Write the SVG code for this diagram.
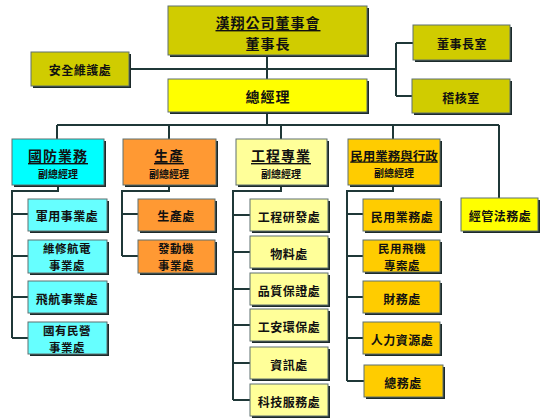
<svg xmlns="http://www.w3.org/2000/svg" width="550" height="419" viewBox="0 0 550 419">
<defs>
<style>
.sh{fill:#1c2a2a}
.bx{stroke:#5f7070;stroke-width:1}
.ol{fill:#D0CC00}
.yl{fill:#FFFF00}
.cy{fill:#00FFFF}
.lc{fill:#66FFFF}
.or{fill:#FF9933}
.ly{fill:#FFFF99}
.gd{fill:#FFCC00}
text{font-family:"Noto Sans CJK TC","Noto Sans CJK SC",serif;font-weight:bold;fill:#111;text-anchor:middle;dominant-baseline:central}
.t14{font-size:14px;letter-spacing:1px}
.t12{font-size:12px;letter-spacing:0.5px}
.t2{font-size:11.5px;letter-spacing:0.5px}
.t10{font-size:10px}
.conn{fill:none;stroke:#1f3838;stroke-width:2}
</style>
</defs>
<rect width="550" height="419" fill="#fff"/>
<g id="connectors">
<path class="conn" d="M267 55V79M129 69H396M396 43V96M396 43H413M396 96H412M267 112V125M57 125H499M57 125V139M169 125V139M281 125V139M393 125V139M499 125V198"/>
<path class="conn" d="M58 185V191H12V338M12 214H28M12 256H28M12 297H28M12 338H28"/>
<path class="conn" d="M169 185V191H122V256M122 214H138M122 256H138"/>
<path class="conn" d="M281 185V191H233V400M233 215H250M233 252H250M233 289H250M233 325H250M233 363H250M233 400H250"/>
<path class="conn" d="M393 185V191H347V381M347 214H363M347 256H363M347 297H363M347 338H363M347 381H364"/>
</g>
<g id="board">
<rect class="sh" x="170" y="8" width="199" height="49"/>
<rect class="bx ol" x="168" y="6" width="199" height="49"/>
<text class="t14" x="268" y="22" text-decoration="underline">漢翔公司董事會</text>
<text class="t14" x="268" y="43">董事長</text>
</g>
<g id="security">
<rect class="sh" x="33" y="54" width="98" height="34"/>
<rect class="bx ol" x="31" y="52" width="98" height="34"/>
<text class="t12" x="80" y="69">安全維護處</text>
</g>
<g id="chairman-office">
<rect class="sh" x="415" y="27" width="97" height="35"/>
<rect class="bx ol" x="413" y="25" width="97" height="35"/>
<text class="t12" x="462" y="43">董事長室</text>
</g>
<g id="audit">
<rect class="sh" x="414" y="81" width="98" height="34"/>
<rect class="bx ol" x="412" y="79" width="98" height="34"/>
<text class="t12" x="461" y="97">稽核室</text>
</g>
<g id="gm">
<rect class="sh" x="170" y="81" width="199" height="33"/>
<rect class="bx yl" x="168" y="79" width="199" height="33"/>
<text class="t14" x="268" y="96">總經理</text>
</g>
<g id="defense">
<rect class="sh" x="14" y="141" width="92" height="46"/>
<rect class="bx cy" x="12" y="139" width="92" height="46"/>
<text class="t14" x="58" y="155" text-decoration="underline">國防業務</text>
<text class="t10" x="58" y="173">副總經理</text>
</g>
<g id="production">
<rect class="sh" x="125" y="141" width="93" height="46"/>
<rect class="bx or" x="123" y="139" width="93" height="46"/>
<text class="t14" x="169" y="155" text-decoration="underline">生產</text>
<text class="t10" x="169" y="173">副總經理</text>
</g>
<g id="engineering">
<rect class="sh" x="238" y="141" width="91" height="46"/>
<rect class="bx ly" x="236" y="139" width="91" height="46"/>
<text class="t14" x="281" y="155" text-decoration="underline">工程專業</text>
<text class="t10" x="281" y="173">副總經理</text>
</g>
<g id="civil">
<rect class="sh" x="350" y="141" width="92" height="46"/>
<rect class="bx gd" x="348" y="139" width="92" height="46"/>
<text x="394" y="155" font-size="12.5" text-decoration="underline">民用業務與行政</text>
<text class="t10" x="394" y="172">副總經理</text>
</g>
<g id="legal">
<rect class="sh" x="463" y="200" width="77" height="33"/>
<rect class="bx yl" x="461" y="198" width="77" height="33"/>
<text class="t12" x="500" y="215">經管法務處</text>
</g>
<g id="d1"><rect class="sh" x="30" y="201" width="79" height="32"/><rect class="bx lc" x="28" y="199" width="79" height="32"/><text class="t12" x="67" y="215">軍用事業處</text></g>
<g id="d2"><rect class="sh" x="30" y="242" width="79" height="33"/><rect class="bx lc" x="28" y="240" width="79" height="33"/><text class="t2" x="67" y="248">維修航電</text><text class="t2" x="67" y="265">事業處</text></g>
<g id="d3"><rect class="sh" x="30" y="283" width="79" height="32"/><rect class="bx lc" x="28" y="281" width="79" height="32"/><text class="t12" x="67" y="298">飛航事業處</text></g>
<g id="d4"><rect class="sh" x="30" y="324" width="79" height="32"/><rect class="bx lc" x="28" y="322" width="79" height="32"/><text class="t2" x="67" y="330">國有民營</text><text class="t2" x="67" y="347">事業處</text></g>
<g id="p1"><rect class="sh" x="140" y="201" width="77" height="32"/><rect class="bx or" x="138" y="199" width="77" height="32"/><text class="t12" x="176" y="215">生產處</text></g>
<g id="p2"><rect class="sh" x="140" y="242" width="77" height="33"/><rect class="bx or" x="138" y="240" width="77" height="33"/><text class="t2" x="176" y="248">發動機</text><text class="t2" x="176" y="265">事業處</text></g>
<g id="e1"><rect class="sh" x="252" y="201" width="78" height="32"/><rect class="bx ly" x="250" y="199" width="78" height="32"/><text class="t12" x="289" y="216">工程研發處</text></g>
<g id="e2"><rect class="sh" x="252" y="238" width="78" height="32"/><rect class="bx ly" x="250" y="236" width="78" height="32"/><text class="t12" x="289" y="253">物料處</text></g>
<g id="e3"><rect class="sh" x="252" y="275" width="78" height="32"/><rect class="bx ly" x="250" y="273" width="78" height="32"/><text class="t12" x="289" y="290">品質保證處</text></g>
<g id="e4"><rect class="sh" x="252" y="311" width="78" height="32"/><rect class="bx ly" x="250" y="309" width="78" height="32"/><text class="t12" x="289" y="326">工安環保處</text></g>
<g id="e5"><rect class="sh" x="252" y="349" width="78" height="32"/><rect class="bx ly" x="250" y="347" width="78" height="32"/><text class="t12" x="289" y="364">資訊處</text></g>
<g id="e6"><rect class="sh" x="252" y="386" width="78" height="32"/><rect class="bx ly" x="250" y="384" width="78" height="32"/><text class="t12" x="289" y="401">科技服務處</text></g>
<g id="c1"><rect class="sh" x="365" y="201" width="77" height="32"/><rect class="bx gd" x="363" y="199" width="77" height="32"/><text class="t12" x="402" y="216">民用業務處</text></g>
<g id="c2"><rect class="sh" x="365" y="242" width="77" height="32"/><rect class="bx gd" x="363" y="240" width="77" height="32"/><text class="t2" x="402" y="248">民用飛機</text><text class="t2" x="402" y="265">專案處</text></g>
<g id="c3"><rect class="sh" x="365" y="283" width="77" height="32"/><rect class="bx gd" x="363" y="281" width="77" height="32"/><text class="t12" x="402" y="298">財務處</text></g>
<g id="c4"><rect class="sh" x="365" y="324" width="77" height="32"/><rect class="bx gd" x="363" y="322" width="77" height="32"/><text class="t12" x="402" y="339">人力資源處</text></g>
<g id="c5"><rect class="sh" x="366" y="367" width="79" height="32"/><rect class="bx gd" x="364" y="365" width="79" height="32"/><text class="t12" x="403" y="382">總務處</text></g>
</svg>
